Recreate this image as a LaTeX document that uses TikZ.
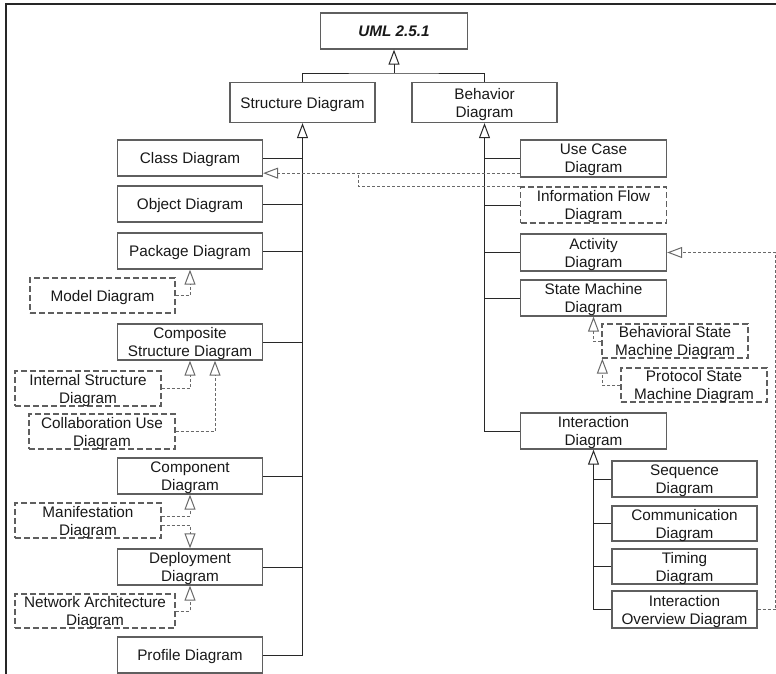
\documentclass[tikz,border=0pt]{standalone}
\usepackage{fontspec}
\setmainfont{Liberation Sans}
\usetikzlibrary{arrows.meta}
\definecolor{boxgray}{RGB}{95,95,95}
\definecolor{linecol}{RGB}{40,40,40}
\definecolor{dashcol}{RGB}{105,105,105}
\definecolor{txt}{RGB}{25,25,25}
\begin{document}
\begin{tikzpicture}[x=1pt,y=-1pt,
  font=\fontsize{15.3}{18}\selectfont,
  box/.style={draw=boxgray, line width=1.3pt, fill=white, inner sep=0pt,
    align=center, text=txt, text depth=0pt, minimum height=36pt},
  lbox/.style={box, minimum width=145pt},
  rbox/.style={box, minimum width=146pt},
  dbox/.style={box, dash pattern=on 6pt off 3pt},
  conn/.style={draw=linecol, line width=0.9pt},
  gen/.style={-{Triangle[open, length=15pt, width=11pt, line width=1pt]}},
  dconn/.style={conn, draw=dashcol, dash pattern=on 3pt off 2pt},
]
\useasboundingbox (0,0) rectangle (776,674);
% outer frame (top and left edges)
\draw[line width=1.2pt, draw=black!85] (6,674) -- (6,4) -- (776,4);

% root and the two main branches
\node[box, minimum width=147pt, minimum height=36pt, font=\fontsize{15.3}{18}\selectfont\bfseries\itshape]
  (uml) at (394,31) {UML 2.5.1};
\node[box, minimum width=145pt, minimum height=40pt] (str) at (302.5,102.5) {Structure Diagram};
\node[box, minimum width=145pt, minimum height=40pt] (beh) at (484.5,102.5) {Behavior\\Diagram};

% structure diagrams
\node[lbox] (cls) at (190,158) {Class Diagram};
\node[lbox] (obj) at (190,204) {Object Diagram};
\node[lbox] (pkg) at (190,251) {Package Diagram};
\node[dbox, minimum width=145pt, minimum height=35pt] (mdl) at (102.5,295.5) {Model Diagram};
\node[lbox] (cmp) at (190,342) {Composite\\Structure Diagram};
\node[dbox, minimum width=146pt, minimum height=35pt] (ist) at (88,388.5) {Internal Structure\\Diagram};
\node[dbox, minimum width=146pt, minimum height=35pt] (cuse) at (102,431.5) {Collaboration Use\\Diagram};
\node[lbox] (cpt) at (190,476) {Component\\Diagram};
\node[dbox, minimum width=146pt, minimum height=35pt] (man) at (88,520.5) {Manifestation\\Diagram};
\node[lbox] (dep) at (190,567) {Deployment\\Diagram};
\node[dbox, minimum width=160pt, minimum height=34pt] (net) at (95,611) {Network Architecture\\Diagram};
\node[lbox] (prf) at (190,655) {Profile Diagram};

% behavior diagrams
\node[rbox, minimum height=37pt] (uc) at (593.5,158.5) {Use Case\\Diagram};
\node[dbox, minimum width=146pt] (ifl) at (593.5,205) {Information Flow\\Diagram};
\node[rbox, minimum height=37pt] (act) at (593.5,252.5) {Activity\\Diagram};
\node[rbox] (sm) at (593.5,298) {State Machine\\Diagram};
\node[dbox, minimum width=146pt, minimum height=34pt] (bsm) at (675,341) {Behavioral State\\Machine Diagram};
\node[dbox, minimum width=146pt, minimum height=34pt] (psm) at (694,385) {Protocol State\\Machine Diagram};
\node[rbox] (intd) at (593.5,431) {Interaction\\Diagram};
\node[box, minimum width=145pt] (seq) at (684.5,479) {Sequence\\Diagram};
\node[box, minimum width=145pt, minimum height=35pt] (com) at (684.5,523.5) {Communication\\Diagram};
\node[box, minimum width=145pt, minimum height=35pt] (tim) at (684.5,566.5) {Timing\\Diagram};
\node[box, minimum width=145pt, minimum height=37pt] (iod) at (684.5,609.5) {Interaction\\Overview Diagram};

% root generalization
\coordinate (topj) at (394,73);
\draw[conn] (str.north) |- (topj) -| (beh.north);
\draw[conn, gen] (topj) -- (uml.south);

% structure spine
\draw[conn, gen] (prf.east) -| (str.south);
\foreach \n in {cls,obj,pkg,cmp,cpt,dep}
  \draw[conn] (\n.east) -- (\n.east -| str.south);

% behavior spine
\draw[conn, gen] (intd.west) -| (beh.south);
\foreach \n in {uc,ifl,act,sm}
  \draw[conn] (\n.west) -- (\n.west -| beh.south);

% interaction spine
\draw[conn, gen] (iod.west) -| (intd.south);
\foreach \n in {seq,com,tim}
  \draw[conn] (\n.west) -- (\n.west -| intd.south);

% dashed generalizations on the structure side
\draw[dconn, gen] (mdl.east) -| (pkg.south);
\draw[dconn, gen] (ist.east) -| (cmp.south);
\draw[dconn, gen] (cuse.east) -| ([xshift=25pt]cmp.south);
\draw[dconn, gen] ([yshift=4.5pt]man.east) -| (cpt.south);
\draw[dconn, gen] ([yshift=-4.5pt]man.east) -| (dep.north);
\draw[dconn, gen] (net.east) -| (dep.south);

% dashed generalizations on the behavior side
\draw[dconn, gen] (bsm.west) -| (sm.south);
\draw[dconn, gen] (psm.west) -| ([xshift=1pt]bsm.south west);
\coordinate (ucd) at ([yshift=4.5pt]uc.south west);
\draw[dconn, gen] (ucd) -- (ucd -| cls.east);
\coordinate (ifj) at (358,172.5);
\draw[dconn] (ifl.north west) -| (ifj);
\draw[dconn, gen] (iod.east) -- ++(18,0) |- (act.east);
\end{tikzpicture}
\end{document}
